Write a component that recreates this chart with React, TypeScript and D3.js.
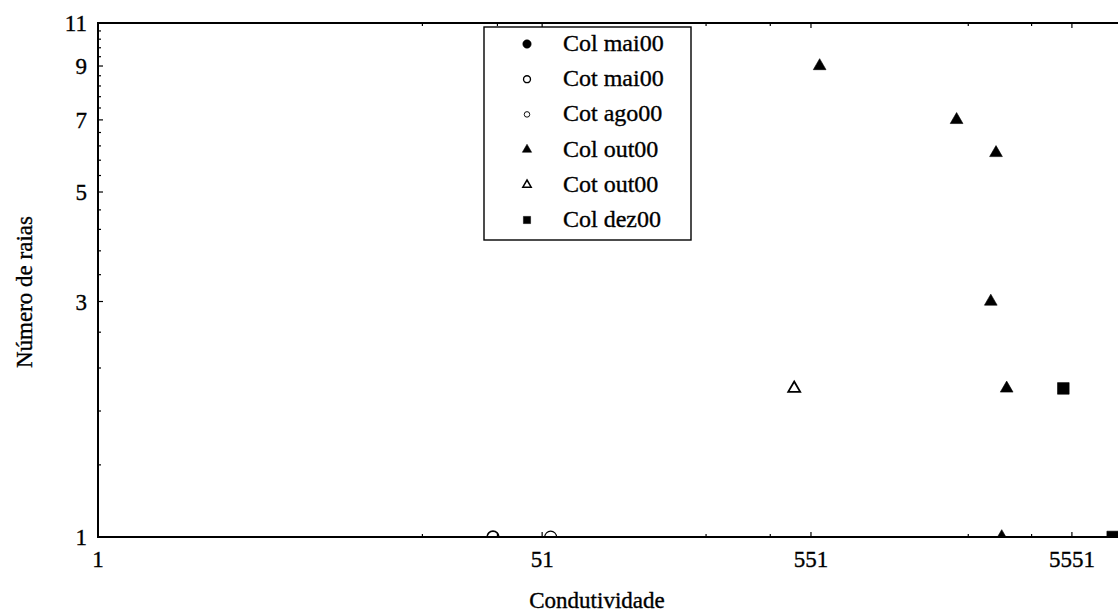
import React from "react";
import * as d3 from "d3";

// Axis ticks
const xMajorTicks = [1, 51, 551, 5551];
const xMinorTicks = [17.67, 34.33, 217.67, 384.33, 2217.67, 3884.33];
const yMajorTicks = [1, 3, 5, 7, 9, 11];
const yMinorTicks = [1.4, 1.8, 2.2, 2.6, 3.4, 3.8, 4.2, 4.6, 5.4, 5.8, 6.2, 6.6, 7.4, 7.8, 8.2, 8.6, 9.4, 9.8, 10.2, 10.6];

// Series: conductivity (x) and number of rays (y)
const colMai00X: number[] = [];
const colMai00Y: number[] = [];
const cotMai00X = [33];
const cotMai00Y = [1];
const cotAgo00X = [55];
const cotAgo00Y = [1];
const colOut00X = [595, 2000, 2835, 2707, 3116, 2982];
const colOut00Y = [9, 7, 6, 3, 2, 1];
const cotOut00X = [475];
const cotOut00Y = [2];
const colDez00X = [5145, 7966];
const colDez00Y = [2, 1];

const seriesNames = ["Col mai00", "Cot mai00", "Cot ago00", "Col out00", "Cot out00", "Col dez00"];

type Shape = "circle" | "triangle" | "square";
interface Style { shape: Shape; filled: boolean; strokeWidth: number; plotSize: number; legendSize: number; }

const styles: Style[] = [
  { shape: "circle", filled: true, strokeWidth: 1, plotSize: 125, legendSize: 56 },
  { shape: "circle", filled: false, strokeWidth: 1.6, plotSize: 110, legendSize: 38 },
  { shape: "circle", filled: false, strokeWidth: 1.1, plotSize: 110, legendSize: 24 },
  { shape: "triangle", filled: true, strokeWidth: 1, plotSize: 70, legendSize: 38 },
  { shape: "triangle", filled: false, strokeWidth: 1.8, plotSize: 62, legendSize: 30 },
  { shape: "square", filled: true, strokeWidth: 1, plotSize: 135, legendSize: 52 },
];

const seriesData = [
  [colMai00X, colMai00Y],
  [cotMai00X, cotMai00Y],
  [cotAgo00X, cotAgo00Y],
  [colOut00X, colOut00Y],
  [cotOut00X, cotOut00Y],
  [colDez00X, colDez00Y],
];

const W = 1118;
const H = 612;
const left = 98;
const top = 23;
const bottom = 537;
const decade = 260.1;

const font = "'Liberation Serif', 'Times New Roman', Times, serif";

function symbolPath(shape: Shape, size: number): string {
  const type = shape === "circle" ? d3.symbolCircle : shape === "triangle" ? d3.symbolTriangle : d3.symbolSquare;
  return d3.symbol().type(type).size(size)() as string;
}

export default function App() {
  const x = d3.scaleLog().domain([1, 10000]).range([left, left + 4 * decade]);
  const y = d3.scaleLog().domain([1, 11]).range([bottom, top]);
  const right = x(10000);

  const legendX = 484;
  const legendY = 27;
  const legendW = 207;
  const legendH = 213;
  const rowStart = 44;
  const rowStep = 35.2;

  const textInk = { fill: "#000", stroke: "#000", strokeWidth: 0.35 };

  return (
    <div style={{ position: "absolute", left: 0, top: 0 }}>
      <svg width={W} height={H} style={{ display: "block", background: "#fff" }} fontFamily={font}>
        <defs>
          <clipPath id="plot-area">
            <rect x={left} y={top} width={right - left} height={bottom - top} />
          </clipPath>
        </defs>

        {/* markers */}
        <g clipPath="url(#plot-area)">
          {seriesData.map(([xs, ys], si) => {
            const st = styles[si];
            const d = symbolPath(st.shape, st.plotSize);
            return xs.map((xv, i) => (
              <path
                key={`${si}-${i}`}
                d={d}
                transform={`translate(${x(xv)},${y(ys[i])})`}
                fill={st.filled ? "#000" : "#fff"}
                stroke="#000"
                strokeWidth={st.filled ? 0.6 : st.strokeWidth}
              />
            ));
          })}
        </g>

        {/* frame */}
        <g stroke="#000" strokeWidth={2} fill="none">
          <line x1={left} y1={top} x2={left} y2={bottom} />
          <line x1={left - 1} y1={bottom} x2={right} y2={bottom} />
          <line x1={left - 1} y1={top} x2={right} y2={top} />
        </g>

        {/* ticks on bottom, top and left edges, pointing inward */}
        <g stroke="#000" strokeWidth={1.2}>
          {xMajorTicks.map((t) => (
            <g key={`xm${t}`}>
              <line x1={x(t)} x2={x(t)} y1={bottom} y2={bottom - 5} />
              <line x1={x(t)} x2={x(t)} y1={top} y2={top + 5} />
            </g>
          ))}
          {xMinorTicks.map((t) => (
            <g key={`xn${t}`}>
              <line x1={x(t)} x2={x(t)} y1={bottom} y2={bottom - 3} />
              <line x1={x(t)} x2={x(t)} y1={top} y2={top + 3} />
            </g>
          ))}
          {yMajorTicks.map((t) => (
            <line key={`ym${t}`} x1={left} x2={left + 5} y1={y(t)} y2={y(t)} />
          ))}
          {yMinorTicks.map((t) => (
            <line key={`yn${t}`} x1={left} x2={left + 3} y1={y(t)} y2={y(t)} />
          ))}
        </g>

        {/* tick labels */}
        <g fontSize={23} {...textInk}>
          {xMajorTicks.map((t) => (
            <text key={`xl${t}`} x={x(t)} y={567} textAnchor="middle">{t}</text>
          ))}
          {yMajorTicks.map((t) => (
            <text key={`yl${t}`} x={87} y={y(t) + 8} textAnchor="end">{t}</text>
          ))}
        </g>

        {/* axis titles */}
        <text x={597} y={608} fontSize={23} textAnchor="middle" {...textInk}>Condutividade</text>
        <text transform="translate(32,292) rotate(-90)" fontSize={23} textAnchor="middle" {...textInk}>Número de raias</text>

        {/* legend */}
        <rect x={legendX} y={legendY} width={legendW} height={legendH} fill="#fff" stroke="#000" strokeWidth={1.4} />
        {seriesNames.map((name, i) => {
          const st = styles[i];
          const cy = rowStart + i * rowStep;
          return (
            <g key={name}>
              <path
                d={symbolPath(st.shape, st.legendSize)}
                transform={`translate(527,${cy})`}
                fill={st.filled ? "#000" : "#fff"}
                stroke="#000"
                strokeWidth={st.filled ? 0.5 : st.strokeWidth * 0.85}
              />
              <text x={563} y={cy + 7} fontSize={24} {...textInk}>{name}</text>
            </g>
          );
        })}
      </svg>
    </div>
  );
}
